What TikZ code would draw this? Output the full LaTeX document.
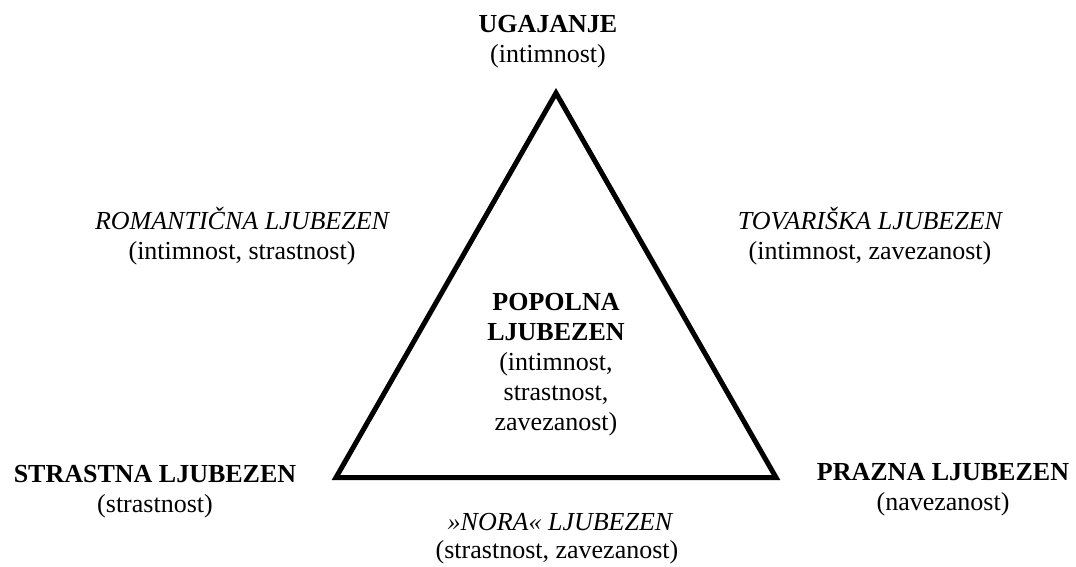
\documentclass[tikz,border=0pt]{standalone}
\usepackage{fontspec}
\setmainfont{Liberation Serif}
\begin{document}
\begin{tikzpicture}[x=1pt,y=1pt,
  lbl/.style={anchor=base,inner sep=0pt,font=\fontsize{26}{30}\selectfont},
  lblb/.style={lbl,font=\fontsize{26}{30}\selectfont\bfseries},
  lbli/.style={lbl,font=\fontsize{26}{30}\selectfont\itshape}]
\useasboundingbox (0,0) rectangle (1076,-567);
\coordinate (A) at (556,-93);
\coordinate (B) at (336,-477.5);
\coordinate (C) at (776,-477.5);
\draw[line width=5pt,line join=miter] (A) -- (B) -- (C) -- cycle;
% top
\node[lblb] (t1) at (548,-33) {UGAJANJE};
\node[lbl] (t2) at (548,-63) {(intimnost)};
% left upper
\node[lbli] (r1) at (242,-229) {ROMANTIČNA LJUBEZEN};
\node[lbl] (r2) at (242,-259) {(intimnost, strastnost)};
% right upper
\node[lbli] (v1) at (870,-229) {TOVARIŠKA LJUBEZEN};
\node[lbl] (v2) at (870,-259) {(intimnost, zavezanost)};
% centre
\node[lblb] (p1) at (556,-310) {POPOLNA};
\node[lblb] (p2) at (556,-340) {LJUBEZEN};
\node[lbl] (p3) at (556,-370) {(intimnost,};
\node[lbl] (p4) at (556,-400) {strastnost,};
\node[lbl] (p5) at (556,-430) {zavezanost)};
% bottom left
\node[lblb] (s1) at (155,-482) {STRASTNA LJUBEZEN};
\node[lbl] (s2) at (155,-512) {(strastnost)};
% bottom right
\node[lblb] (z1) at (943,-480) {PRAZNA LJUBEZEN};
\node[lbl] (z2) at (943,-510) {(navezanost)};
% bottom
\node[lbli] (n1) at (560,-530) {»NORA« LJUBEZEN};
\node[lbl] (n2) at (557,-558) {(strastnost, zavezanost)};
\end{tikzpicture}
\end{document}
